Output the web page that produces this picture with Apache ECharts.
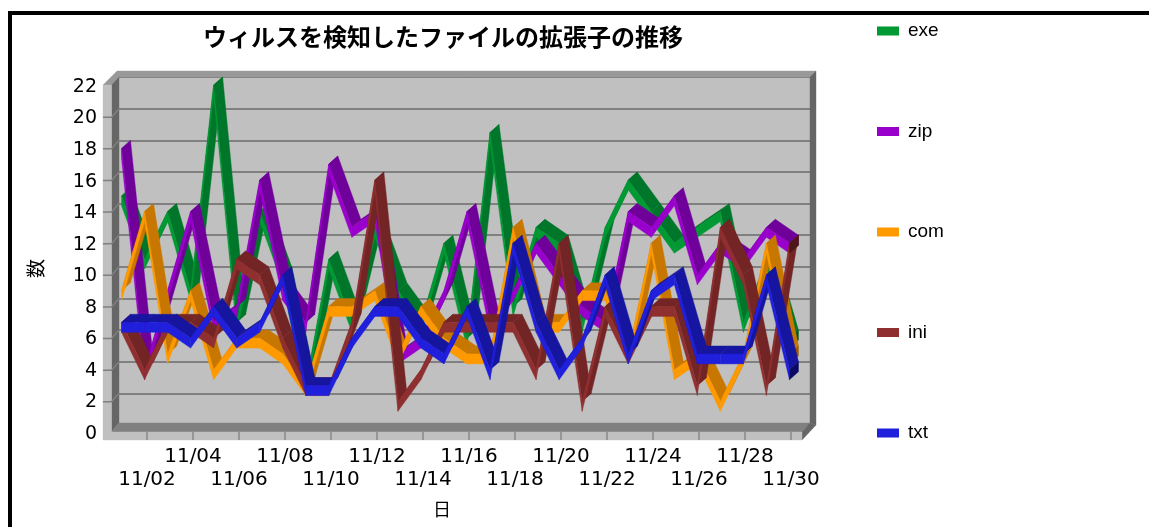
<!DOCTYPE html>
<html>
<head>
<meta charset="utf-8">
<style>html,body{margin:0;padding:0;background:#fff}#c{width:1149px;height:527px}</style>
<script src="https://cdn.jsdelivr.net/npm/echarts@6/dist/echarts.min.js"></script>
</head>
<body>
<div id="c"></div>
<script>
const categories = ['11/01','11/02','11/03','11/04','11/05','11/06','11/07','11/08','11/09','11/10','11/11','11/12','11/13','11/14','11/15','11/16','11/17','11/18','11/19','11/20','11/21','11/22','11/23','11/24','11/25','11/26','11/27','11/28','11/29','11/30'];
const exe = [15,11,14,9,22,7,14,10,3,11,7,13,9,7,12,6,19,8,13,12,7,13,16,14,12,13,14,7,11,6];
const zip = [18,4,9,14,7,8,16,9,7,17,13,14,5,6,9,14,7,9,12,10,8,7,14,13,15,10,12,11,13,12];
const com = [9,14,5,9,4,6,6,5,3,8,8,9,5,8,6,5,5,13,7,7,9,9,5,12,4,5,2,5,12,5];
const ini = [7,4,7,7,6,11,10,6,3,3,7,16,2,4,7,7,7,7,4,12,2,8,5,8,8,3,13,10,3,12];
const txt = [7,7,7,6,8,6,7,10,3,3,6,8,8,6,5,8,4,12,7,4,6,10,5,9,10,5,5,5,10,4];
const yTicks = [0,22,2];
const lowerRowLabels = ['11/02','11/06','11/10','11/14','11/18','11/22','11/26','11/30'];
const upperRowLabels = ['11/04','11/08','11/12','11/16','11/20','11/24','11/28'];

const seriesStyles = [
  {name:'exe', values:exe, front:'#009933', top:'#00762a', cap:'#005a20'},
  {name:'zip', values:zip, front:'#9900cc', top:'#70009a', cap:'#4c0068'},
  {name:'com', values:com, front:'#ff9900', top:'#c77700', cap:'#9a5c00'},
  {name:'ini', values:ini, front:'#8f2f2f', top:'#732424', cap:'#4f1616'},
  {name:'txt', values:txt, front:'#1f1fdc', top:'#15159f', cap:'#0a0a66'}
];

const DX = 9, DY = 8, TH = 10;
const poly = (points, color) => ({
  type:'polygon', shape:{points}, style:{fill:color, stroke:color, lineWidth:0.4}
});

function ribbon(values, st) {
  return function (params, api) {
    const i = params.dataIndex;
    const b = api.coord([i, values[i]]);
    const f = [b[0]-DX, b[1]+DY];
    const g = [f[0], f[1]+TH];
    if (i === values.length-1) {
      return {type:'group', children:[poly([f, b, [b[0], b[1]+TH], g], st.cap)]};
    }
    const b2 = api.coord([i+1, values[i+1]]);
    const f2 = [b2[0]-DX, b2[1]+DY];
    const g2 = [f2[0], f2[1]+TH];
    return {type:'group', children:[
      poly([b, b2, f2, f], st.top),
      poly([f, f2, g2, g], st.front)
    ]};
  };
}

function frame(params, api) {
  const cs = params.coordSys;
  const L = cs.x, T = cs.y, R = cs.x+cs.width, B = cs.y+cs.height;
  const fl = L-7.5, ol = L-16, fb = B+7, ob = B+15, fr = R-8, sr = R+6;
  const kids = [
    poly([[ol,T+8],[L-2,T-6],[sr,T-6],[R,T],[L,T],[fl,T+8]], '#999999'),
    poly([[fl,T+8],[L,T],[L,B-2],[fl,fb]], '#666666'),
    poly([[R,T],[sr,T-6],[sr,B],[R,B-2]], '#666666'),
    poly([[fl,fb],[L,B-2],[R,B-2],[fr,fb]], '#808080'),
    poly([[fr,fb],[R,B-2],[sr,B],[fr,ob]], '#666666'),
    poly([[ol,T+8],[fl,T+8],[fl,fb],[ol,fb]], '#c0c0c0'),
    poly([[ol,fb],[fr,fb],[fr,ob],[ol,ob]], '#c0c0c0')
  ];
  for (let v = yTicks[0]+yTicks[2]; v < yTicks[1]; v += yTicks[2]) {
    const y = api.coord([0, v])[1];
    kids.push({type:'polyline', shape:{points:[[ol,y+8.5],[fl,y+8.5],[L,y]]}, style:{fill:null, stroke:'#808080', lineWidth:1.5}});
  }
  return {type:'group', children:kids};
}

const tickStyle = {show:true, length:8, lineStyle:{color:'#888888', width:1.5}};
const xLabelFont = {fontFamily:'"DejaVu Sans"', fontSize:20, color:'#000', showMinLabel:true, showMaxLabel:true};

const option = {
  animation:false,
  backgroundColor:'#ffffff',
  title:{
    text:'ウィルスを検知したファイルの拡張子の推移',
    left:438, top:20, textAlign:'center',
    textStyle:{fontFamily:'"Noto Sans CJK JP"', fontSize:24, fontWeight:'bold', color:'#000'}
  },
  legend:{
    data:seriesStyles.map(s=>s.name),
    orient:'vertical', left:872, top:16, itemWidth:22, itemHeight:9, itemGap:80.5,
    icon:'rect', selectedMode:false,
    textStyle:{fontFamily:'"Liberation Sans"', fontSize:19, color:'#000', padding:[0,0,0,4], lineHeight:20}
  },
  grid:[
    {left:119, top:77, width:691, height:348, show:true, backgroundColor:'#c0c0c0', borderWidth:0},
    {left:147, top:85, width:644, height:347},
    {left:193, top:85, width:552, height:347},
    {left:147, top:87, width:644, height:347}
  ],
  xAxis:[
    {type:'category', gridIndex:0, data:categories, boundaryGap:true,
     axisLine:{show:false}, axisTick:{show:false}, axisLabel:{show:false}, splitLine:{show:false}},
    {type:'value', gridIndex:1, min:0, max:lowerRowLabels.length-1, interval:1, z:6,
     name:'日', nameLocation:'middle', nameGap:68,
     nameTextStyle:{fontFamily:'"Noto Sans CJK JP"', fontSize:18, color:'#000', padding:[0,54,0,0]},
     axisLine:{show:false}, axisTick:tickStyle, splitLine:{show:false},
     axisLabel:Object.assign({show:true, margin:38, formatter:(k)=>lowerRowLabels[k]}, xLabelFont)},
    {type:'value', gridIndex:2, min:0, max:upperRowLabels.length-1, interval:1, z:6,
     axisLine:{show:false}, axisTick:tickStyle, splitLine:{show:false},
     axisLabel:Object.assign({show:true, margin:15, formatter:(k)=>upperRowLabels[k]}, xLabelFont)},
    {type:'value', gridIndex:3, min:0, max:1, show:false}
  ],
  yAxis:[
    {type:'value', gridIndex:0, min:yTicks[0], max:yTicks[1], interval:yTicks[2],
     axisLine:{show:false}, axisTick:{show:false}, axisLabel:{show:false},
     splitLine:{show:true, lineStyle:{color:'#808080', width:2}}},
    {type:'value', gridIndex:1, min:yTicks[0], max:yTicks[1], interval:yTicks[2], show:false},
    {type:'value', gridIndex:2, min:yTicks[0], max:yTicks[1], interval:yTicks[2], show:false},
    {type:'value', gridIndex:3, min:yTicks[0], max:yTicks[1], interval:yTicks[2], z:6,
     name:'数', nameLocation:'middle', nameGap:102, nameRotate:90,
     nameTextStyle:{fontFamily:'"Noto Sans CJK JP"', fontSize:19, color:'#000', padding:[0,16,0,0]},
     axisLine:{show:false}, axisTick:{show:false}, splitLine:{show:false},
     axisLabel:{show:true, margin:50, fontFamily:'"DejaVu Sans"', fontSize:19, color:'#000'}}
  ],
  graphic:[
    {type:'rect', left:8, top:11, shape:{width:4, height:516}, style:{fill:'#000'}, silent:true},
    {type:'rect', left:8, top:11, shape:{width:1141, height:4}, style:{fill:'#000'}, silent:true}
  ],
  series:[
    {type:'custom', name:'frame', xAxisIndex:0, yAxisIndex:0, coordinateSystem:'cartesian2d',
     renderItem:frame, data:[[0,0]], clip:false, silent:true, z:1, encode:{x:0,y:1}, tooltip:{show:false}}
  ].concat(seriesStyles.map((s,idx)=>({
    type:'custom', name:s.name, xAxisIndex:0, yAxisIndex:0, coordinateSystem:'cartesian2d',
    renderItem:ribbon(s.values, s), clip:false, z:2+idx,
    itemStyle:{color:s.front},
    encode:{x:0,y:1},
    data:s.values.map((v,i)=>[i,v])
  })))
};
const chart = echarts.init(document.getElementById('c'), null, {renderer:'canvas', width:1149, height:527});
chart.setOption(option);
</script>
</body>
</html>
